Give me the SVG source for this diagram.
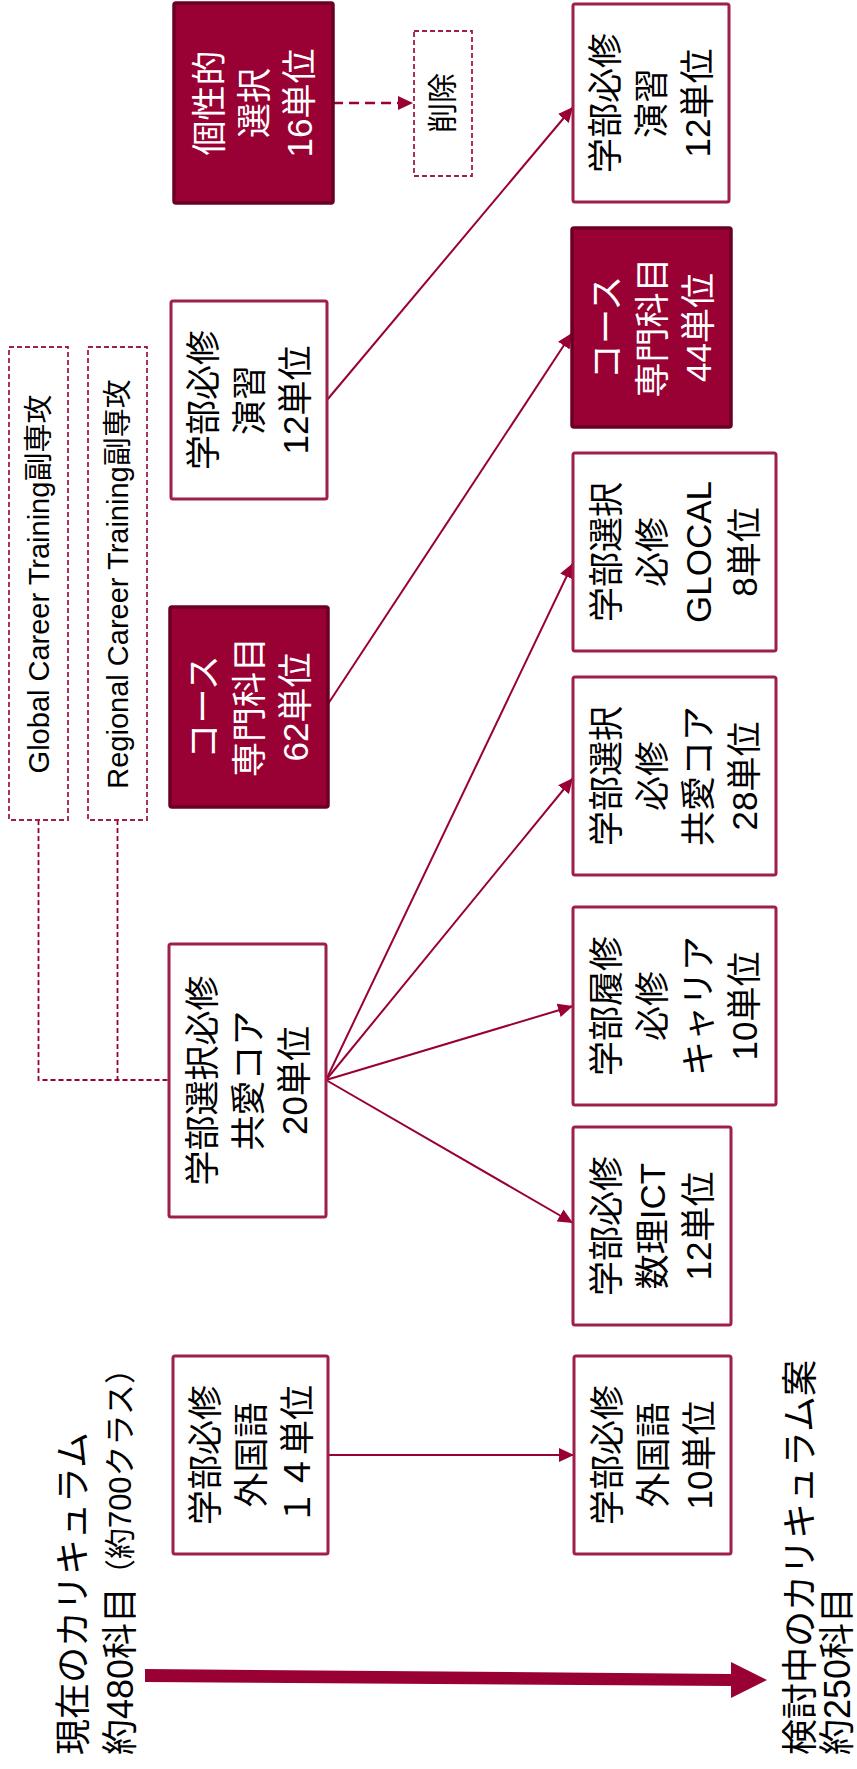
<svg xmlns="http://www.w3.org/2000/svg" width="857" height="1769" viewBox="0 0 857 1769">
<style>
text{font-family:"Liberation Sans","Noto Sans CJK JP",sans-serif;dominant-baseline:central;text-anchor:middle;}
.box{fill:#fff;stroke:#9e1f47;stroke-width:3;}
.fill{fill:#990033;stroke:#6b0022;stroke-width:3.5;}
.dbox{fill:#fff;stroke:#9e1f47;stroke-width:1.8;stroke-dasharray:5,3;}
.lbl{font-size:35px;fill:#000;}
.wlbl{font-size:35px;fill:#fff;}
.small{font-size:29px;fill:#000;}
.big{font-size:36px;fill:#000;text-anchor:start;}
.conn{stroke:#990033;stroke-width:2;fill:none;}
.dconn{stroke:#990033;stroke-width:1.8;fill:none;stroke-dasharray:5,3;}
.dconn2{stroke:#990033;stroke-width:2.5;fill:none;stroke-dasharray:10,6;}
</style>
<defs>
<marker id="ah" markerUnits="userSpaceOnUse" markerWidth="16" markerHeight="14" refX="15" refY="7" orient="auto">
<path d="M0,0 L15,7 L0,14 Z" fill="#990033"/>
</marker>
</defs>

<g id="connectors">
<line class="dconn2" x1="333" y1="103" x2="413" y2="103" marker-end="url(#ah)"/>
<path class="dconn" d="M38.5,820 V1080 H169 M117.5,820 V1080"/>
<line class="conn" x1="327" y1="400" x2="573" y2="107" marker-end="url(#ah)"/>
<line class="conn" x1="328" y1="704" x2="572" y2="333" marker-end="url(#ah)"/>
<line class="conn" x1="326" y1="1080" x2="573" y2="563" marker-end="url(#ah)"/>
<line class="conn" x1="326" y1="1080" x2="573" y2="778" marker-end="url(#ah)"/>
<line class="conn" x1="326" y1="1080" x2="573" y2="1006" marker-end="url(#ah)"/>
<line class="conn" x1="326" y1="1080" x2="573" y2="1223" marker-end="url(#ah)"/>
<line class="conn" x1="328" y1="1455" x2="574" y2="1455" marker-end="url(#ah)"/>
<polygon points="145,1669 731,1674 731,1662 767,1680 731,1698 731,1686 145,1682" fill="#990033"/>
</g>

<g id="n_kosei">
<rect class="fill" x="174" y="3" width="159" height="200" rx="2"/>
<text class="wlbl" transform="translate(253.5,103) rotate(-90)"><tspan x="0" y="-45">個性的</tspan><tspan x="0" y="0">選択</tspan><tspan x="0" y="45">16単位</tspan></text>
</g>

<g id="n_sakujo">
<rect class="dbox" x="414" y="31" width="58" height="145"/>
<text class="small" style="font-size:30px" transform="translate(442,103) rotate(-90)">削除</text>
</g>

<g id="n_enshu_old">
<rect class="box" x="171" y="301" width="156" height="198" rx="2"/>
<text class="lbl" transform="translate(249,400) rotate(-90)"><tspan x="0" y="-46">学部必修</tspan><tspan x="0" y="0">演習</tspan><tspan x="0" y="46">12単位</tspan></text>
</g>

<g id="n_course62">
<rect class="fill" x="170" y="607" width="158" height="200" rx="2"/>
<text class="wlbl" transform="translate(249,707) rotate(-90)"><tspan x="0" y="-46">コース</tspan><tspan x="0" y="0">専門科目</tspan><tspan x="0" y="46">62単位</tspan></text>
</g>

<g id="n_global">
<rect class="dbox" x="9" y="347" width="59" height="473"/>
<text class="small" transform="translate(38.5,584) rotate(-90)">Global Career Training副専攻</text>
</g>

<g id="n_regional">
<rect class="dbox" x="88" y="347" width="59" height="473"/>
<text class="small" transform="translate(117.5,584) rotate(-90)">Regional Career Training副専攻</text>
</g>

<g id="n_core20">
<rect class="box" x="169" y="944" width="157" height="273" rx="2"/>
<text class="lbl" transform="translate(247.5,1080.5) rotate(-90)"><tspan x="0" y="-46">学部選択必修</tspan><tspan x="0" y="0">共愛コア</tspan><tspan x="0" y="46">20単位</tspan></text>
</g>

<g id="n_gaikoku_old">
<rect class="box" x="173" y="1356" width="155" height="198" rx="2"/>
<text class="lbl" transform="translate(250.5,1455) rotate(-90)"><tspan x="0" y="-46">学部必修</tspan><tspan x="0" y="0">外国語</tspan><tspan x="0" y="46">１４単位</tspan></text>
</g>

<g id="n_enshu_new">
<rect class="box" x="573" y="4" width="156" height="198" rx="2"/>
<text class="lbl" transform="translate(651,103) rotate(-90)"><tspan x="0" y="-46">学部必修</tspan><tspan x="0" y="0">演習</tspan><tspan x="0" y="46">12単位</tspan></text>
</g>

<g id="n_course44">
<rect class="fill" x="572" y="228" width="159" height="199" rx="2"/>
<text class="wlbl" transform="translate(651.5,327.5) rotate(-90)"><tspan x="0" y="-46">コース</tspan><tspan x="0" y="0">専門科目</tspan><tspan x="0" y="46">44単位</tspan></text>
</g>

<g id="n_glocal">
<rect class="box" x="573" y="453" width="203" height="198" rx="2"/>
<text class="lbl" transform="translate(674.5,552) rotate(-90)"><tspan x="0" y="-69">学部選択</tspan><tspan x="0" y="-23">必修</tspan><tspan x="0" y="23">GLOCAL</tspan><tspan x="0" y="69">8単位</tspan></text>
</g>

<g id="n_kyoai28">
<rect class="box" x="573" y="677" width="203" height="198" rx="2"/>
<text class="lbl" transform="translate(674.5,776) rotate(-90)"><tspan x="0" y="-69">学部選択</tspan><tspan x="0" y="-23">必修</tspan><tspan x="0" y="23">共愛コア</tspan><tspan x="0" y="69">28単位</tspan></text>
</g>

<g id="n_career">
<rect class="box" x="573" y="907" width="203" height="198" rx="2"/>
<text class="lbl" transform="translate(674.5,1006) rotate(-90)"><tspan x="0" y="-69">学部履修</tspan><tspan x="0" y="-23">必修</tspan><tspan x="0" y="23">キャリア</tspan><tspan x="0" y="69">10単位</tspan></text>
</g>

<g id="n_ict">
<rect class="box" x="573" y="1127" width="158" height="198" rx="2"/>
<text class="lbl" transform="translate(652,1226) rotate(-90)"><tspan x="0" y="-46">学部必修</tspan><tspan x="0" y="0">数理ICT</tspan><tspan x="0" y="46">12単位</tspan></text>
</g>

<g id="n_gaikoku_new">
<rect class="box" x="574" y="1356" width="157" height="198" rx="2"/>
<text class="lbl" transform="translate(652.5,1455) rotate(-90)"><tspan x="0" y="-46">学部必修</tspan><tspan x="0" y="0">外国語</tspan><tspan x="0" y="46">10単位</tspan></text>
</g>

<g id="t_current">
<text class="big" transform="translate(73,1755) rotate(-90)">現在のカリキュラム</text>
<text class="big" transform="translate(120,1755) rotate(-90)">約480科目</text>
<text class="big" style="font-size:31px;text-anchor:end" transform="translate(120,1353) rotate(-90)">（約700クラス）</text>
</g>

<g id="t_planned">
<text class="big" transform="translate(800,1755) rotate(-90)">検討中のカリキュラム案</text>
<text class="big" transform="translate(837,1755) rotate(-90)">約250科目</text>
</g>
</svg>
